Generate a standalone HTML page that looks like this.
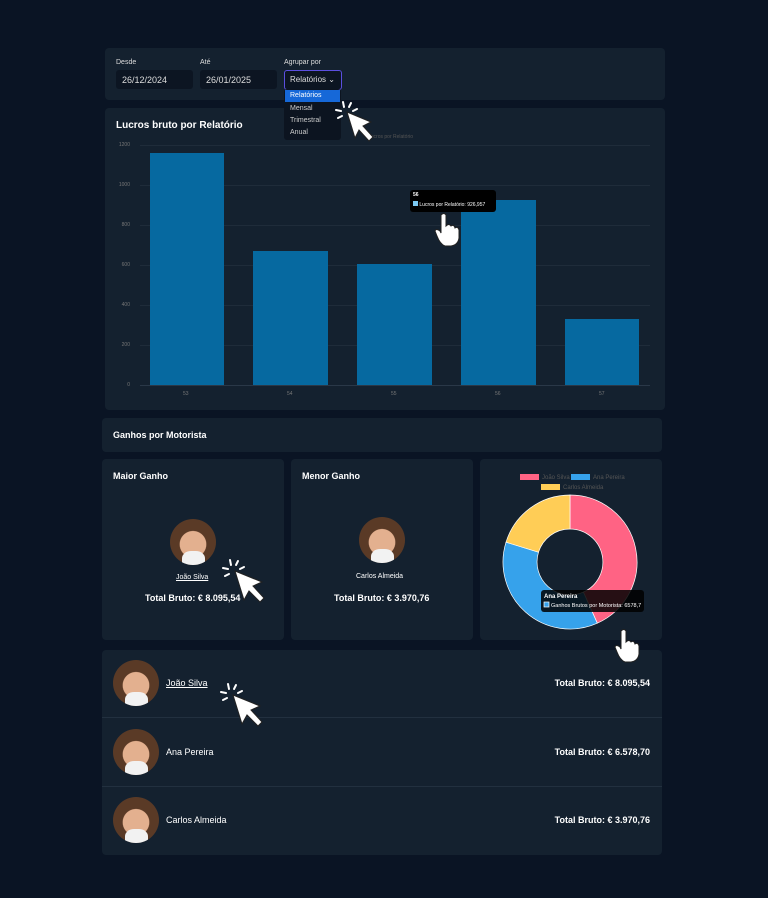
<!DOCTYPE html><html><head><style>
body{margin:0;width:768px;height:898px;background:#0a1424;font-family:"Liberation Sans",sans-serif;color:#fff;position:relative;overflow:hidden}
.c{position:absolute;background:#14212f;border-radius:4px}
.t{position:absolute;white-space:nowrap}
.av{position:absolute;border-radius:50%;background:radial-gradient(circle at 50% 55%,#e3b08f 0 38%,#5a3a26 40% 100%);overflow:hidden}
.av:after{content:"";position:absolute;left:25%;top:70%;width:50%;height:40%;background:#f2f2f2;border-radius:40% 40% 0 0}
.in{position:absolute;background:#0c1522;border-radius:3px;font-size:9px;color:#ddd}
.gl{position:absolute;background:#1f2c3a}
.cur{position:absolute;z-index:5}
</style></head><body>
<div class="c" style="left:105px;top:48px;width:560px;height:52px"></div>
<div class="t" style="left:116px;top:59px;font-size:7px;color:#ddd">Desde</div>
<div class="t" style="left:200px;top:59px;font-size:7px;color:#ddd">Até</div>
<div class="t" style="left:284px;top:59px;font-size:7px;color:#ddd">Agrupar por</div>
<div class="in" style="left:116px;top:70px;width:77px;height:19px"><span style="position:absolute;left:6px;top:5px">26/12/2024</span></div>
<div class="in" style="left:200px;top:70px;width:77px;height:19px"><span style="position:absolute;left:6px;top:5px">26/01/2025</span></div>
<div class="in" style="left:284px;top:70px;width:56px;height:18px;border:1px solid #5b4fe0"><span style="position:absolute;left:5px;top:4px;font-size:8px">Relatórios ⌄</span></div>
<div class="c" style="left:105px;top:108px;width:560px;height:302px"></div>
<div class="t" style="left:116px;top:120px;font-size:10px;font-weight:bold">Lucros bruto por Relatório</div>
<div class="gl" style="left:140px;top:385px;width:510px;height:1px;background:#2a3848"></div>
<div class="gl" style="left:140px;top:145px;width:510px;height:1px"></div>
<div class="gl" style="left:140px;top:185px;width:510px;height:1px"></div>
<div class="gl" style="left:140px;top:225px;width:510px;height:1px"></div>
<div class="gl" style="left:140px;top:265px;width:510px;height:1px"></div>
<div class="gl" style="left:140px;top:305px;width:510px;height:1px"></div>
<div class="gl" style="left:140px;top:345px;width:510px;height:1px"></div>
<div class="t" style="left:112px;top:142px;font-size:5px;color:#777;width:18px;text-align:right">1200</div>
<div class="t" style="left:112px;top:182px;font-size:5px;color:#777;width:18px;text-align:right">1000</div>
<div class="t" style="left:112px;top:222px;font-size:5px;color:#777;width:18px;text-align:right">800</div>
<div class="t" style="left:112px;top:262px;font-size:5px;color:#777;width:18px;text-align:right">600</div>
<div class="t" style="left:112px;top:302px;font-size:5px;color:#777;width:18px;text-align:right">400</div>
<div class="t" style="left:112px;top:342px;font-size:5px;color:#777;width:18px;text-align:right">200</div>
<div class="t" style="left:112px;top:382px;font-size:5px;color:#777;width:18px;text-align:right">0</div>
<div style="position:absolute;left:150px;top:153px;width:74px;height:232px;background:#0669a0"></div>
<div style="position:absolute;left:253px;top:251px;width:75px;height:134px;background:#0669a0"></div>
<div style="position:absolute;left:357px;top:264px;width:75px;height:121px;background:#0669a0"></div>
<div style="position:absolute;left:461px;top:200px;width:75px;height:185px;background:#0669a0"></div>
<div style="position:absolute;left:565px;top:319px;width:74px;height:66px;background:#0669a0"></div>
<div class="t" style="left:183px;top:391px;font-size:5px;color:#777">53</div>
<div class="t" style="left:287px;top:391px;font-size:5px;color:#777">54</div>
<div class="t" style="left:391px;top:391px;font-size:5px;color:#777">55</div>
<div class="t" style="left:495px;top:391px;font-size:5px;color:#777">56</div>
<div class="t" style="left:599px;top:391px;font-size:5px;color:#777">57</div>
<div class="t" style="left:368px;top:134px;font-size:5px;color:#555">Lucros por Relatório</div>
<div style="position:absolute;left:284px;top:89px;width:57px;height:51px;background:#0c1420;border-radius:3px"></div>
<div style="position:absolute;left:285px;top:90px;width:55px;height:12px;background:#1668d8"></div>
<div class="t" style="left:290px;top:92px;font-size:7px">Relatórios</div>
<div class="t" style="left:290px;top:105px;font-size:7px;color:#ccc">Mensal</div>
<div class="t" style="left:290px;top:117px;font-size:7px;color:#ccc">Trimestral</div>
<div class="t" style="left:290px;top:129px;font-size:7px;color:#ccc">Anual</div>
<div style="position:absolute;left:410px;top:190px;width:86px;height:22px;background:#000;border-radius:3px"></div>
<div class="t" style="left:413px;top:192px;font-size:5px;font-weight:bold">56</div>
<div class="t" style="left:413px;top:201px;font-size:5px"><span style="display:inline-block;width:5px;height:5px;background:#7cc8f0"></span> Lucros por Relatório: 926,957</div>
<svg class="cur" style="left:335px;top:100px" width="45" height="45"><g stroke="#fff" stroke-width="2" stroke-linecap="round"><line x1="8" y1="2" x2="9" y2="7"/><line x1="1" y1="10" x2="6" y2="11"/><line x1="3" y1="18" x2="7" y2="16"/><line x1="16" y1="3" x2="14" y2="7"/><line x1="22" y1="9" x2="18" y2="11"/></g><path d="M12,12 L36,22 L28,26 L38,37 L34,41 L24,30 L20,38Z" fill="#fff" stroke="#222" stroke-width="1"/></svg>
<svg class="cur" style="left:432px;top:212px" width="30" height="35"><path d="M9,3 Q12,0 14,3 L14,14 Q17,11 19,14 Q22,12 23,16 Q26,14 27,18 L27,26 Q26,33 19,34 L13,34 Q8,32 5,24 L3,19 Q4,16 8,19 L9,21Z" fill="#fff" stroke="#222" stroke-width="1"/></svg>
<div class="c" style="left:102px;top:418px;width:560px;height:34px"></div>
<div class="t" style="left:113px;top:430px;font-size:9px;font-weight:bold">Ganhos por Motorista</div>
<div class="c" style="left:102px;top:459px;width:182px;height:181px"></div>
<div class="c" style="left:291px;top:459px;width:182px;height:181px"></div>
<div class="c" style="left:480px;top:459px;width:182px;height:181px"></div>
<div class="t" style="left:113px;top:471px;font-size:9px;font-weight:bold">Maior Ganho</div>
<div class="t" style="left:302px;top:471px;font-size:9px;font-weight:bold">Menor Ganho</div>
<div class="av" style="left:170px;top:519px;width:46px;height:46px"></div>
<div class="av" style="left:359px;top:517px;width:46px;height:46px"></div>
<div class="t" style="left:176px;top:574px;font-size:7px;text-decoration:underline">João Silva</div>
<div class="t" style="left:356px;top:573px;font-size:7px">Carlos Almeida</div>
<div class="t" style="left:145px;top:593px;font-size:9px;font-weight:bold">Total Bruto: € 8.095,54</div>
<div class="t" style="left:334px;top:593px;font-size:9px;font-weight:bold">Total Bruto: € 3.970,76</div>
<svg class="cur" style="left:222px;top:558px" width="55" height="50"><g stroke="#fff" stroke-width="2" stroke-linecap="round"><line x1="8" y1="2" x2="9" y2="7"/><line x1="1" y1="10" x2="6" y2="11"/><line x1="3" y1="18" x2="7" y2="16"/><line x1="16" y1="3" x2="14" y2="7"/><line x1="22" y1="9" x2="18" y2="11"/></g><path d="M13,13 L40,24 L31,28 L42,40 L38,44 L27,33 L22,42Z" fill="#fff" stroke="#222" stroke-width="1"/></svg>
<svg style="position:absolute;left:480px;top:459px" width="182" height="181">
<rect x="40" y="15" width="19" height="6" fill="#ff6384"/><text x="62" y="20" font-size="6" fill="#555">João Silva</text>
<rect x="91" y="15" width="19" height="6" fill="#36a2eb"/><text x="113" y="20" font-size="6" fill="#555">Ana Pereira</text>
<rect x="61" y="25" width="19" height="6" fill="#ffcd56"/><text x="83" y="30" font-size="6" fill="#555">Carlos Almeida</text>
<g transform="translate(90,103)" stroke="#fff" stroke-width="0.7">
<path d="M0,-67 A67,67 0 0 1 27.3,61.2 L13.4,30.1 A33,33 0 0 0 0,-33Z" fill="#ff6384"/>
<path d="M27.3,61.2 A67,67 0 0 1 -64.0,-19.8 L-31.5,-9.8 A33,33 0 0 0 13.4,30.1Z" fill="#36a2eb"/>
<path d="M-64.0,-19.8 A67,67 0 0 1 0,-67 L0,-33 A33,33 0 0 0 -31.5,-9.8Z" fill="#ffcd56"/>
</g>
<rect x="61" y="131" width="103" height="22" rx="3" fill="#000" opacity="0.85"/>
<text x="64" y="139" font-size="6" font-weight="bold" fill="#fff">Ana Pereira</text>
<rect x="64" y="143" width="5" height="5" fill="#36a2eb" stroke="#fff" stroke-width="0.7"/>
<text x="71" y="148" font-size="5.5" fill="#fff">Ganhos Brutos por Motorista: 6578,7</text>
</svg>
<svg class="cur" style="left:612px;top:628px" width="30" height="35"><path d="M9,3 Q12,0 14,3 L14,14 Q17,11 19,14 Q22,12 23,16 Q26,14 27,18 L27,26 Q26,33 19,34 L13,34 Q8,32 5,24 L3,19 Q4,16 8,19 L9,21Z" fill="#fff" stroke="#222" stroke-width="1"/></svg>
<div class="c" style="left:102px;top:650px;width:560px;height:205px"></div>
<div class="gl" style="left:102px;top:717px;width:560px;height:1px;background:#22303f"></div>
<div class="gl" style="left:102px;top:786px;width:560px;height:1px;background:#22303f"></div>
<div class="av" style="left:113px;top:660px;width:46px;height:46px"></div>
<div class="av" style="left:113px;top:729px;width:46px;height:46px"></div>
<div class="av" style="left:113px;top:797px;width:46px;height:46px"></div>
<div class="t" style="left:166px;top:678px;font-size:9px;text-decoration:underline">João Silva</div>
<div class="t" style="left:166px;top:747px;font-size:9px">Ana Pereira</div>
<div class="t" style="left:166px;top:815px;font-size:9px">Carlos Almeida</div>
<div class="t" style="right:118px;top:678px;font-size:9px;font-weight:bold">Total Bruto: € 8.095,54</div>
<div class="t" style="right:118px;top:747px;font-size:9px;font-weight:bold">Total Bruto: € 6.578,70</div>
<div class="t" style="right:118px;top:815px;font-size:9px;font-weight:bold">Total Bruto: € 3.970,76</div>
<svg class="cur" style="left:220px;top:682px" width="55" height="50"><g stroke="#fff" stroke-width="2" stroke-linecap="round"><line x1="8" y1="2" x2="9" y2="7"/><line x1="1" y1="10" x2="6" y2="11"/><line x1="3" y1="18" x2="7" y2="16"/><line x1="16" y1="3" x2="14" y2="7"/><line x1="22" y1="9" x2="18" y2="11"/></g><path d="M13,13 L40,24 L31,28 L42,40 L38,44 L27,33 L22,42Z" fill="#fff" stroke="#222" stroke-width="1"/></svg>
</body></html>
